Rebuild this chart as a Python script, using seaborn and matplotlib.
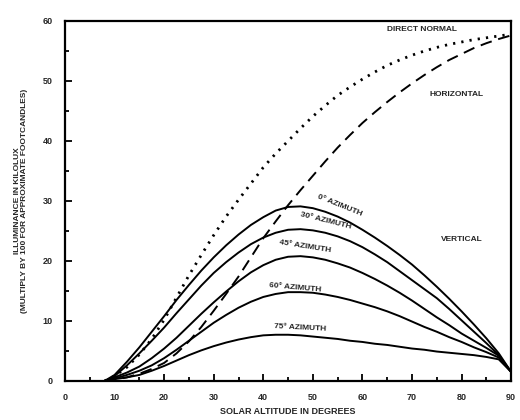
import seaborn as sns
import matplotlib.pyplot as plt
from matplotlib.ticker import MultipleLocator

# solar altitude (degrees)
altitude = [8, 10, 12.5, 15, 17.5, 20, 22.5, 25, 27.5, 30, 32.5, 35, 37.5, 40, 42.5, 45, 47.5,
            50, 52.5, 55, 57.5, 60, 62.5, 65, 67.5, 70, 72.5, 75, 77.5, 80, 82.5, 85, 87.5, 90]

# illuminance in kilolux
direct_normal = [0, 0.8, 2.3, 4.4, 7.0, 10.2, 13.9, 17.6, 21.0, 24.3, 27.4, 30.2, 32.9, 35.6, 37.9, 40.0, 42.1,
                 44.1, 45.9, 47.6, 49.0, 50.3, 51.5, 52.6, 53.5, 54.3, 55.0, 55.6, 56.1, 56.5, 56.9, 57.2, 57.5, 57.8]
horizontal = [0, 0.2, 0.6, 1.2, 2.0, 3.0, 4.6, 6.6, 9.0, 11.7, 14.5, 17.4, 20.6, 23.8, 26.6, 29.3, 31.8,
              34.2, 36.6, 38.9, 41.0, 43.0, 44.8, 46.5, 48.1, 49.6, 51.0, 52.3, 53.5, 54.5, 55.5, 56.3, 57.0, 57.6]
vert_0 = [0, 1.0, 3.2, 5.6, 8.2, 10.8, 13.5, 16.0, 18.4, 20.6, 22.6, 24.4, 26.0, 27.3, 28.4, 29.0, 29.1,
          28.8, 28.2, 27.4, 26.4, 25.2, 23.9, 22.5, 21.0, 19.4, 17.6, 15.7, 13.7, 11.6, 9.4, 7.1, 4.6, 1.5]
vert_30 = [0, 0.8, 2.6, 4.6, 6.7, 8.9, 11.3, 13.6, 15.9, 18.0, 19.8, 21.4, 22.8, 23.9, 24.7, 25.2, 25.3,
           25.1, 24.7, 24.1, 23.3, 22.3, 21.1, 19.8, 18.3, 16.8, 15.3, 13.8, 12.0, 10.1, 8.2, 6.3, 4.3, 1.5]
vert_45 = [0, 0.6, 1.4, 2.4, 3.8, 5.4, 7.2, 9.2, 11.2, 13.1, 14.9, 16.6, 18.1, 19.3, 20.2, 20.7, 20.8,
           20.6, 20.2, 19.6, 18.9, 18.0, 17.0, 15.9, 14.7, 13.4, 12.0, 10.6, 9.3, 7.9, 6.7, 5.5, 4.2, 1.5]
vert_60 = [0, 0.4, 1.0, 1.7, 2.6, 3.8, 5.2, 6.7, 8.2, 9.7, 11.0, 12.2, 13.2, 14.0, 14.5, 14.8, 14.8,
           14.7, 14.4, 14.0, 13.5, 12.9, 12.3, 11.6, 10.8, 9.9, 9.0, 8.2, 7.3, 6.5, 5.6, 4.8, 3.9, 1.5]
vert_75 = [0, 0.3, 0.6, 1.0, 1.7, 2.5, 3.4, 4.3, 5.1, 5.8, 6.4, 6.9, 7.3, 7.6, 7.7, 7.7, 7.6,
           7.4, 7.2, 7.0, 6.7, 6.5, 6.2, 6.0, 5.7, 5.4, 5.2, 4.9, 4.7, 4.5, 4.3, 4.0, 3.6, 1.5]

sns.set_style("ticks")
plt.rcParams['font.family'] = ['Liberation Sans', 'DejaVu Sans']
plt.rcParams['font.weight'] = 'bold'

fig = plt.figure(figsize=(5.2, 4.2), dpi=100)
ax = fig.add_axes([0.125, 0.093, 0.858, 0.857])

sns.lineplot(x=altitude, y=direct_normal, ax=ax, color="black", lw=2.0, linestyle=(0, (0.8, 2.2)))
sns.lineplot(x=altitude, y=horizontal, ax=ax, color="black", lw=1.4, linestyle=(0, (6, 3.5)))
for vals in [vert_0, vert_30, vert_45, vert_60, vert_75]:
    sns.lineplot(x=altitude, y=vals, ax=ax, color="black", lw=1.4)

ax.set_xlim(0, 90)
ax.set_ylim(0, 60)
ax.xaxis.set_major_locator(MultipleLocator(10))
ax.xaxis.set_minor_locator(MultipleLocator(5))
ax.yaxis.set_major_locator(MultipleLocator(10))
ax.yaxis.set_minor_locator(MultipleLocator(5))
ax.tick_params(which="both", direction="in", width=1.3, labelsize=6.5, color="black")
ax.tick_params(which="major", length=5, pad=9)
ax.tick_params(which="minor", length=3)
for s in ax.spines.values():
    s.set_linewidth(1.6)
    s.set_color("black")

ax.set_xlabel("SOLAR ALTITUDE IN DEGREES", fontsize=6.5, fontweight="bold", labelpad=3)
ax.set_ylabel("ILLUMINANCE IN KILOLUX\n(MULTIPLY BY 100 FOR APPROXIMATE FOOTCANDLES)",
              fontsize=6, fontweight="bold", labelpad=10, linespacing=1.1)

lab = dict(fontsize=6, fontweight="bold", ha="center", va="center")
ax.text(72, 58.5, "DIRECT NORMAL", **lab)
ax.text(79, 47.7, "HORIZONTAL", **lab)
ax.text(80, 23.5, "VERTICAL", **lab)
ax.text(55.5, 29.2, "0° AZIMUTH", rotation=-22, **lab)
ax.text(52.5, 26.7, "30° AZIMUTH", rotation=-14, **lab)
ax.text(48.5, 22.4, "45° AZIMUTH", rotation=-9, **lab)
ax.text(46.5, 15.5, "60° AZIMUTH", rotation=-5, **lab)
ax.text(47.5, 8.9, "75° AZIMUTH", rotation=-3, **lab)

fig.savefig("out.png", dpi=100, facecolor="white")
